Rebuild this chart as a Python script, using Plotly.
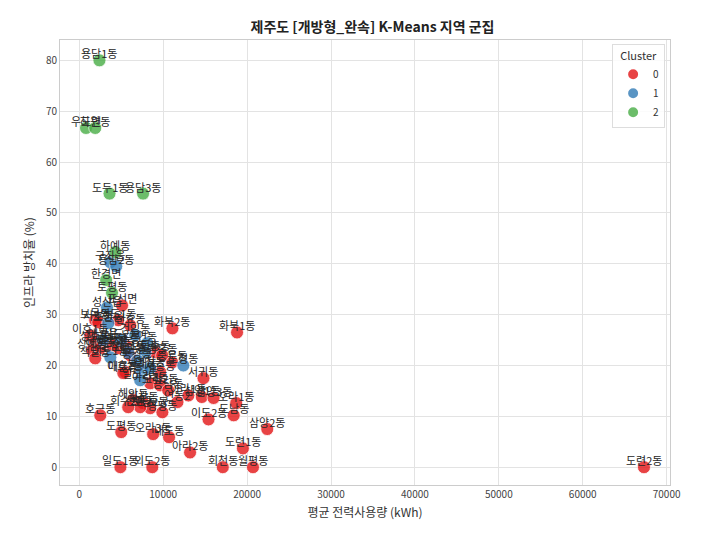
import plotly.graph_objects as go

# cluster 0 / 1 / 2 points: name, mean power use (kWh), idle rate (%)
names_c0 = ["표선면", "보목동", "외도1동", "서호동", "신효동", "화북2동", "화북1동",
            "이호1동", "상효동", "상예동", "하효동", "법환동", "강정동", "도순동", "대포동",
            "회수동", "색달동", "이호2동", "중문동", "서홍동", "동홍동", "서귀동", "대륜동",
            "아라3동", "오라2동", "용담동", "아라1동", "삼양1동", "삼양3동", "연동2",
            "영평동", "해안동", "월산동", "도남2동", "호근동", "도평동", "오라3동",
            "내도동", "아라2동", "도련1동", "일도1동", "외도2동", "회천동", "월평동",
            "삼양2동", "이도2동", "도남동", "오라1동", "도련2동", "신례동", "회수2동"]
x_c0 = [5100, 1900, 4640, 2260, 6070, 11100, 18800,
        1310, 1900, 1550, 2500, 3930, 4640, 5480, 6070,
        9050, 1900, 5480, 11070, 9640, 9880, 14800, 5240,
        8450, 9640, 10600, 13000, 14600, 16000, 11700,
        9900, 6400, 7600, 8450, 2500, 5000, 8800,
        10700, 13200, 19500, 4900, 8700, 17100, 20700,
        22400, 15400, 18400, 18700, 67300, 7260, 5830]
y_c0 = [31.8, 28.9, 28.9, 28.5, 27.9, 27.3, 26.5,
        25.9, 24.6, 23.0, 23.4, 24.0, 23.4, 24.0, 22.0,
        22.6, 21.4, 18.7, 20.6, 18.7, 22.0, 17.5, 18.5,
        16.5, 16.1, 15.1, 14.1, 13.8, 13.6, 12.8,
        10.8, 13.2, 12.6, 11.6, 10.2, 6.9, 6.5,
        5.9, 2.9, 3.7, 0.0, 0.0, 0.0, 0.0,
        7.5, 9.4, 10.2, 12.6, 0.0, 11.8, 11.8]

names_c1 = ["구좌읍", "용담2동", "성산읍", "조천읍", "애월읍", "이도1동", "삼도2동",
            "건입동", "연동", "오등동", "용강동", "봉개동", "영천동", "노형동", "일도2동",
            "삼도1동"]
x_c1 = [3700, 4400, 3300, 3450, 2850, 3700, 5000,
        6670, 8100, 7860, 6900, 7500, 8450, 12400, 7260,
        5830]
y_c1 = [40.3, 39.5, 31.4, 28.3, 25.0, 21.6, 25.0,
        26.0, 24.4, 22.6, 21.0, 19.1, 19.5, 20.0, 17.1,
        22.6]

names_c2 = ["용담1동", "우도면", "하원동", "도두1동", "용담3동", "하예동", "한경면", "토평동"]
x_c2 = [2400, 800, 1900, 3600, 7600, 4300, 3200, 3900]
y_c2 = [80.0, 66.7, 66.7, 53.8, 53.8, 42.3, 36.8, 34.3]

clusters = ["0", "1", "2"]
colors = ["#e41a1c", "#377eb8", "#4daf4a"]

FONT = "Noto Sans CJK KR, Noto Sans, sans-serif"

fig = go.Figure()

groups = [(names_c0, x_c0, y_c0), (names_c1, x_c1, y_c1), (names_c2, x_c2, y_c2)]
for cl, col, (nm, xs, ys) in zip(clusters, colors, groups):
    fig.add_trace(go.Scatter(
        x=xs, y=ys, mode="markers", name=cl,
        marker=dict(size=13, color=col, opacity=0.82,
                    line=dict(color="white", width=0.8)),
        text=nm,
        hovertemplate="%{text}<br>%{x}<br>%{y}<extra></extra>",
    ))

# point labels, drawn slightly above each dot
for nm, xs, ys in groups:
    for n, xv, yv in zip(nm, xs, ys):
        fig.add_annotation(x=xv, y=yv, text=n, showarrow=False, yshift=7,
                           font=dict(size=11, color="#262626", family=FONT))

# page body has an 8px offset, margins compensate for it
fig.update_layout(
    width=701, height=543,
    paper_bgcolor="white", plot_bgcolor="white",
    margin=dict(l=52, r=39, t=32, b=66),
    font=dict(family=FONT, color="#333"),
    title=dict(text="<b>제주도 [개방형_완속] K-Means 지역 군집</b>",
               x=0.52, xanchor="center", y=0.965, yanchor="middle",
               font=dict(size=14, color="#222")),
    legend=dict(title=dict(text="Cluster", font=dict(size=11), side="top center"),
                x=0.992, y=0.99, xanchor="right", yanchor="top",
                bgcolor="rgba(255,255,255,0.85)", bordercolor="#ddd", borderwidth=1,
                font=dict(size=10), itemsizing="constant", itemwidth=30),
    showlegend=True,
)

fig.update_xaxes(
    range=[-2300, 70400], dtick=10000, tickformat="d",
    showgrid=True, gridcolor="#e3e3e3", zeroline=False,
    showline=True, linecolor="#ccc", mirror=True,
    tickfont=dict(size=10, color="#444"),
    title=dict(text="평균 전력사용량 (kWh)", font=dict(size=12, color="#333"), standoff=8),
)
fig.update_yaxes(
    range=[-3.5, 84], dtick=10,
    showgrid=True, gridcolor="#e3e3e3", zeroline=False,
    showline=True, linecolor="#ccc", mirror=True,
    tickfont=dict(size=10, color="#444"),
    title=dict(text="인프라 방치율 (%)", font=dict(size=12, color="#333"), standoff=8),
)

fig.write_html("out.html")
